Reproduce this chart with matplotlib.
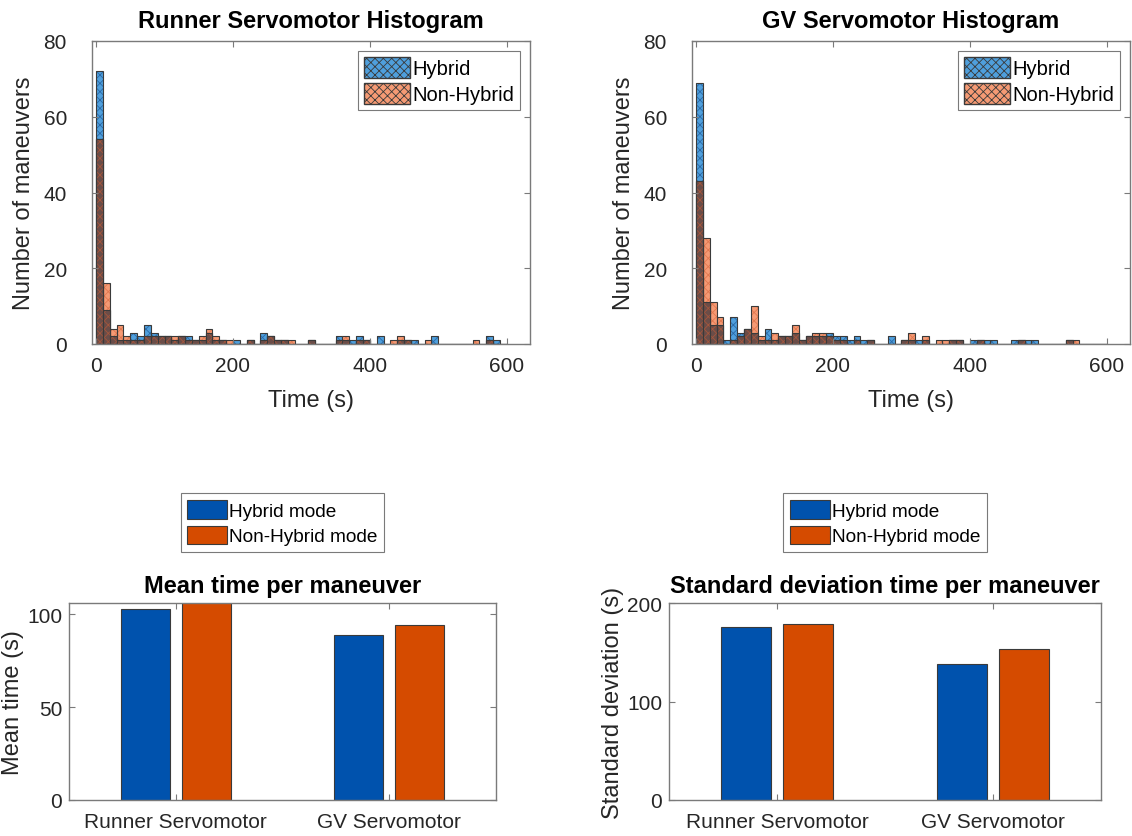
import numpy as np
import matplotlib
matplotlib.use("Agg")
import matplotlib.pyplot as plt
from matplotlib.patches import Patch

plt.rcParams['font.family'] = ['Liberation Sans', 'DejaVu Sans']
plt.rcParams['hatch.linewidth'] = 0.6

# histogram counts, 10 s bins starting at 0
bin_width = 10
runner_hybrid = [72, 9, 2, 1, 1, 3, 2, 5, 3, 2, 2, 1, 2, 2, 1, 1, 3, 1, 1, 0,
                 1, 0, 1, 0, 3, 2, 1, 1, 0, 0, 0, 1, 0, 0, 0, 2, 1, 1, 2, 1,
                 0, 2, 0, 0, 1, 1, 1, 0, 0, 2, 0, 0, 0, 0, 0, 0, 0, 2, 1, 0]
runner_nonhybrid = [54, 16, 4, 5, 2, 1, 1, 2, 2, 2, 2, 2, 2, 1, 1, 2, 4, 2, 1, 1,
                    0, 0, 1, 0, 1, 2, 1, 1, 1, 0, 0, 1, 0, 0, 0, 1, 2, 0, 1, 1,
                    0, 0, 0, 1, 2, 1, 0, 0, 1, 0, 0, 0, 0, 0, 0, 1, 0, 1, 0, 0]
gv_hybrid = [69, 11, 5, 5, 1, 7, 3, 4, 3, 1, 4, 1, 2, 2, 3, 1, 2, 2, 2, 3,
             2, 2, 1, 2, 1, 1, 0, 0, 2, 0, 1, 1, 1, 1, 0, 0, 0, 1, 1, 0,
             1, 1, 1, 1, 0, 0, 1, 1, 1, 1, 0, 0, 0, 0, 1, 0, 0, 0, 0, 0]
gv_nonhybrid = [43, 28, 11, 7, 0, 1, 2, 4, 10, 2, 1, 3, 2, 2, 5, 1, 2, 3, 3, 2,
                1, 1, 0, 1, 0, 1, 0, 0, 0, 0, 1, 3, 0, 2, 0, 1, 1, 1, 1, 0,
                0, 1, 0, 0, 0, 0, 0, 1, 0, 0, 0, 0, 0, 0, 1, 1, 0, 0, 0, 0]

# summary stats
servos = ['Runner Servomotor', 'GV Servomotor']
mean_hybrid = [103, 88.6]
mean_nonhybrid = [108, 94.4]
std_hybrid = [175.5, 137.8]
std_nonhybrid = [179, 153.8]

BLUE_H, BLUE_HATCH = '#4f9fdc', '#2b6aa8'
ORG_H, ORG_HATCH = '#f59a74', '#e2784f'
MIX_H, MIX_HATCH = '#6b4d48', '#a4563c'
EDGE = '#3a3a3a'
BAR_BLUE = '#0052ad'
BAR_ORG = '#d54b00'
AX_COL = '#7a7a7a'
TXT = '#262626'


def style_axes(ax, ypad):
    for s in ax.spines.values():
        s.set_color(AX_COL)
        s.set_linewidth(1.0)
    ax.tick_params(direction='in', length=4, colors=AX_COL, labelcolor=TXT,
                   labelsize=15, top=True, right=True)
    ax.tick_params(axis='y', pad=ypad)
    ax.tick_params(axis='x', pad=9)


def hatched_bar(ax, x, h, face, hatch_col):
    ax.bar(x, h, width=bin_width, align='edge', color=face, hatch='xxxx',
           edgecolor=hatch_col, linewidth=0)
    ax.bar(x, h, width=bin_width, align='edge', fill=False,
           edgecolor=EDGE, linewidth=0.8)


def histogram(ax, hyb, non, title):
    hyb = np.array(hyb)
    non = np.array(non)
    edges = np.arange(len(hyb)) * bin_width
    hatched_bar(ax, edges, hyb, BLUE_H, BLUE_HATCH)
    hatched_bar(ax, edges, non, ORG_H, ORG_HATCH)
    hatched_bar(ax, edges, np.minimum(hyb, non), MIX_H, MIX_HATCH)
    ax.set_xlim(-6, 634)
    ax.set_ylim(0, 80)
    ax.set_xticks([0, 200, 400, 600])
    ax.set_yticks([0, 20, 40, 60, 80])
    ax.set_xlabel('Time (s)', fontsize=17, color=TXT, labelpad=10)
    ax.set_ylabel('Number of maneuvers', fontsize=17, color=TXT, labelpad=6)
    ax.set_title(title, fontsize=17, fontweight='bold', pad=10)
    style_axes(ax, 18)
    handles = [Patch(facecolor=BLUE_H, edgecolor=EDGE, hatch='xxxx', label='Hybrid'),
               Patch(facecolor=ORG_H, edgecolor=EDGE, hatch='xxxx', label='Non-Hybrid')]
    leg = ax.legend(handles=handles, loc='upper right', fontsize=14.5,
                    handlelength=2.3, handleheight=1.2, handletextpad=0.1,
                    borderaxespad=0.5, borderpad=0.3, labelspacing=0.25,
                    fancybox=False, edgecolor=AX_COL, framealpha=1)
    leg.get_frame().set_linewidth(0.8)


def grouped(ax, hyb, non, title, ylabel, ylim, yticks):
    x = np.arange(1, len(servos) + 1)
    b1 = ax.bar(x - 0.143, hyb, width=0.23, color=BAR_BLUE, edgecolor=EDGE,
                linewidth=0.8, label='Hybrid mode')
    b2 = ax.bar(x + 0.143, non, width=0.23, color=BAR_ORG, edgecolor=EDGE,
                linewidth=0.8, label='Non-Hybrid mode')
    ax.set_xlim(0.5, 2.5)
    ax.set_ylim(*ylim)
    ax.set_xticks(x)
    ax.set_xticklabels(servos)
    ax.set_yticks(yticks)
    ax.set_ylabel(ylabel, fontsize=17, color=TXT, labelpad=2)
    ax.set_title(title, fontsize=17, fontweight='bold', pad=8)
    style_axes(ax, 5)
    leg = ax.legend(handles=[b1, b2], loc='lower center', bbox_to_anchor=(0.5, 1.21),
                    fontsize=13.7, handlelength=2.1, handleheight=1.15,
                    handletextpad=0.1, borderpad=0.35, labelspacing=0.3,
                    fancybox=False, edgecolor=AX_COL, framealpha=1)
    leg.get_frame().set_linewidth(0.8)


W, H = 1132, 837
fig = plt.figure(figsize=(W / 100, H / 100), dpi=100)


def add_ax(l, r, t, b):
    return fig.add_axes([l / W, (H - b) / H, (r - l) / W, (b - t) / H])


ax1 = add_ax(92, 530, 42, 345)
ax2 = add_ax(692, 1130, 42, 345)
ax3 = add_ax(69, 496, 604, 801)
ax4 = add_ax(669, 1101, 604, 801)

histogram(ax1, runner_hybrid, runner_nonhybrid, 'Runner Servomotor Histogram')
histogram(ax2, gv_hybrid, gv_nonhybrid, 'GV Servomotor Histogram')
grouped(ax3, mean_hybrid, mean_nonhybrid, 'Mean time per maneuver',
        'Mean time (s)', (0, 106), [0, 50, 100])
grouped(ax4, std_hybrid, std_nonhybrid, 'Standard deviation time per maneuver',
        'Standard deviation (s)', (0, 200), [0, 100, 200])

fig.savefig('out.png', dpi=100)
